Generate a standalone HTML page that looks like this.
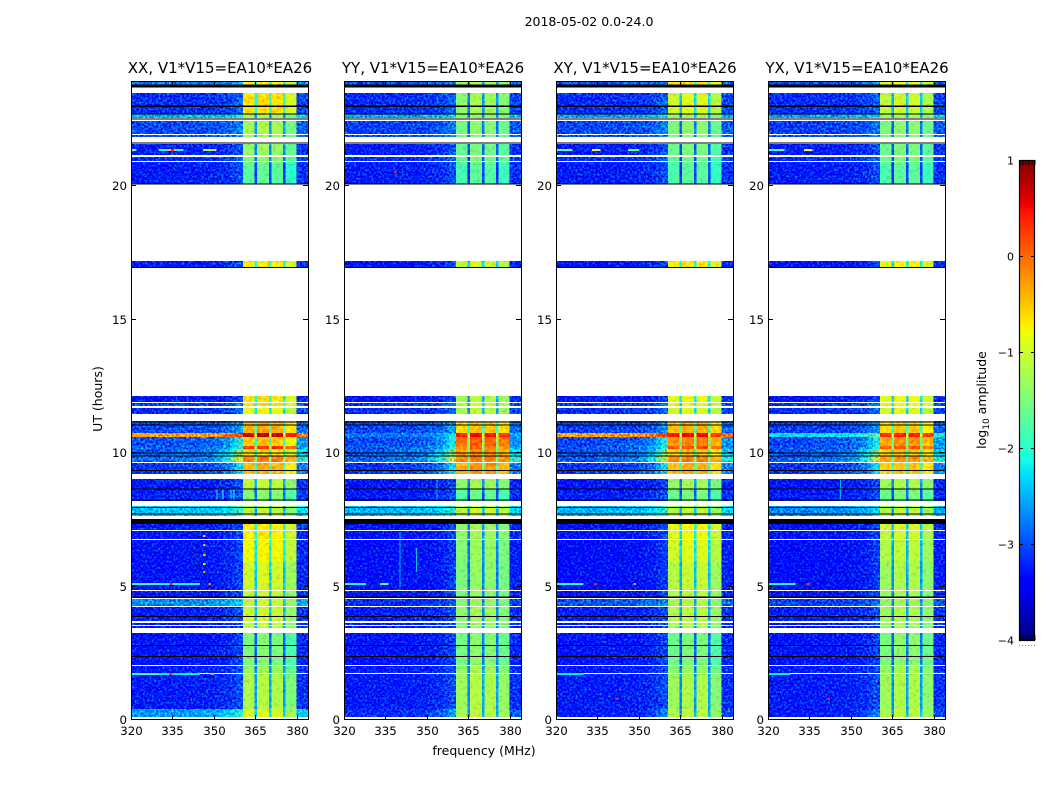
<!DOCTYPE html>
<html lang="en">
<head>
<meta charset="utf-8">
<title>2018-05-02 waterfall</title>
<style>
html,body{margin:0;padding:0;background:#fff;}
body{width:1050px;height:800px;overflow:hidden;}
svg{display:block;font-family:"DejaVu Sans","Liberation Sans",sans-serif;}
</style>
</head>
<body>
<svg id="chart" xmlns="http://www.w3.org/2000/svg" width="1050" height="800" viewBox="0 0 1050 800">
  <defs>
    <filter id="speckle" x="0" y="0" width="100%" height="100%" color-interpolation-filters="sRGB">
      <feTurbulence type="fractalNoise" baseFrequency="0.46" numOctaves="2" seed="7" result="n"/>
      <feColorMatrix in="n" type="matrix" values="0 0 0 0 0.48  2.2 0 0 0 -0.72  1 0 0 0 0  0 0 0 0 1" result="m"/>
      <feComposite in="SourceGraphic" in2="m" operator="arithmetic" k1="0" k2="1" k3="0.75" k4="-0.36" result="c"/>
      <feComposite in="c" in2="SourceAlpha" operator="in"/>
    </filter>
    <filter id="speckle-soft" x="0" y="0" width="100%" height="100%" color-interpolation-filters="sRGB">
      <feTurbulence type="fractalNoise" baseFrequency="0.3" numOctaves="2" seed="11" result="n"/>
      <feColorMatrix in="n" type="matrix" values="0 0 0 0 0.48  0.8 0 0 0 0.1  0 0 0 0 0.48  0 0 0 0 1" result="m"/>
      <feComposite in="SourceGraphic" in2="m" operator="arithmetic" k1="0" k2="1" k3="0.75" k4="-0.36" result="c"/>
      <feComposite in="c" in2="SourceAlpha" operator="in"/>
    </filter>
  </defs>
  <text x="589" y="26" text-anchor="middle" font-size="12.5">2018-05-02 0.0-24.0</text>
  <text x="484" y="755" text-anchor="middle" font-size="12.5">frequency (MHz)</text>
  <text transform="translate(102,399) rotate(-90)" text-anchor="middle" font-size="12.5">UT (hours)</text>
  <text transform="translate(986,400) rotate(-90)" text-anchor="middle" font-size="12.5">log<tspan font-size="9" dy="3">10</tspan><tspan dy="-3"> amplitude</tspan></text>
</svg>
<script>
// ---- categories and tick labels ----
const panelTitles = ["XX, V1*V15=EA10*EA26", "YY, V1*V15=EA10*EA26", "XY, V1*V15=EA10*EA26", "YX, V1*V15=EA10*EA26"];
const xTicks = [320, 335, 350, 365, 380];
const yTicks = [0, 5, 10, 15, 20];
const colorTicks = [1, 0, -1, -2, -3, -4];

// ---- time segments with valid data (UT hours); anything else is flagged white ----
const segEnd   = [23.90,23.45,22.66,22.40,21.87,21.54,21.07,20.88,20.82,17.15,12.11,11.85,11.65,11.18,10.70,10.55,10.22,10.11,9.85,9.59,8.99,8.61,7.98,7.30,7.06,6.69,5.90,4.79,4.48,4.19,3.61,3.48,3.21,2.00,1.70,0.39];
const segStart = [23.76,22.66,22.51,21.93,21.80,21.11,20.92,20.84,20.04,16.93,11.89,11.74,11.44,10.70,10.55,10.22,10.11, 9.85,9.64,9.19,8.61,8.18,7.60,7.09,6.73,5.90,4.83,4.53,4.24,3.67,3.52,3.41,2.04,1.73,0.39,0.09];

// ---- log10 amplitude of the low-frequency region, one value per segment ----
const lowXX = [-2.7,-3.1,-2.4,-2.95,-2.9,-3.2,-3.1,-3.1,-3.2,-3.2,-3.25,-3.0,-3.1,-2.95,-0.4,-2.9,-2.85,-2.85,-2.8,-3.05,-3.2,-3.15,-2.35,-3.2,-3.25,-3.25,-3.25,-3.2,-2.6,-3.2,-3.2,-3.2,-3.25,-3.2,-3.2,-2.55];
const lowYY = [-2.9,-3.1,-2.5,-3.0,-2.9,-3.2,-3.1,-3.1,-3.2,-3.25,-3.25,-3.05,-3.1,-2.95,-2.7,-2.95,-2.85,-2.85,-2.8,-3.05,-3.25,-3.2,-2.4,-3.25,-3.25,-3.3,-3.3,-3.25,-3.1,-3.2,-3.2,-3.2,-3.25,-3.2,-3.2,-3.1];
const lowXY = [-2.9,-3.1,-2.5,-2.95,-2.9,-3.2,-3.1,-3.1,-3.2,-3.25,-3.25,-3.05,-3.1,-3.0,-0.4,-2.95,-2.9,-2.9,-2.85,-3.05,-3.25,-3.2,-2.4,-3.25,-3.25,-3.3,-3.3,-3.25,-2.9,-3.2,-3.2,-3.2,-3.25,-3.2,-3.2,-3.2];
const lowYX = [-2.9,-3.1,-2.5,-3.0,-2.9,-3.2,-3.1,-3.1,-3.2,-3.25,-3.25,-3.05,-3.1,-3.0,-2.2,-2.95,-2.9,-2.9,-2.85,-3.05,-3.25,-3.2,-2.6,-3.25,-3.25,-3.3,-3.3,-3.25,-3.0,-3.2,-3.2,-3.2,-3.25,-3.2,-3.2,-3.2];

// ---- log10 amplitude of the 360-380 MHz band, one value per segment ----
const bandXX = [-0.8,-0.68,-1.3,-1.3,-1.3,-1.4,-1.5,-1.5,-1.75,-0.75,-0.7,-0.7,-0.9,-0.4,0.65,-0.55,0.25,-0.7,-0.15,-0.45,-1.15,-1.5,-1.2,-0.75,-0.75,-0.85,-1.05,-1.1,-1.1,-1.1,-1.15,-1.2,-1.55,-1.4,-1.25,-1.0];
const bandYY = [-1.3,-1.35,-1.4,-1.5,-1.5,-1.6,-1.6,-1.6,-1.8,-1.05,-1.2,-1.1,-1.2,-0.55,0.45,0.0,-0.1,-0.25,-0.1,-0.3,-1.35,-1.7,-1.1,-1.35,-1.35,-1.4,-1.45,-1.45,-1.4,-1.35,-1.4,-1.4,-1.5,-1.35,-1.25,-1.2];
const bandXY = [-0.7,-1.0,-1.3,-1.5,-1.5,-1.6,-1.7,-1.7,-1.8,-0.75,-0.9,-0.85,-1.0,-0.45,0.45,-0.2,0.1,-0.55,-0.2,-0.45,-1.35,-1.6,-1.2,-0.85,-0.9,-1.0,-1.15,-1.2,-1.25,-1.2,-1.25,-1.3,-1.6,-1.45,-1.3,-1.2];
const bandYX = [-0.9,-1.1,-1.3,-1.5,-1.5,-1.6,-1.6,-1.6,-1.8,-0.85,-0.9,-0.85,-1.0,-0.6,0.35,-0.3,0.0,-0.55,-0.3,-0.55,-1.3,-1.6,-1.2,-1.05,-1.1,-1.2,-1.3,-1.35,-1.35,-1.3,-1.35,-1.35,-1.5,-1.35,-1.3,-1.2];

// ---- how strongly each segment brightens towards the band edge ----
const segEdgeLift = [1,1,1,1,1,1,1,1,1,1,1,1,1,1.5,2,3,3,5,6,3,1,1,1.5,1,1,1,1,1,1,1,1,1,1,1,1,2];

// ---- frequency channels (MHz), with a role and a level offset for each ----
const channelEdges  = [320,335,345,350,353,356,358,360.5,364.6,365.6,369.9,370.8,374.9,375.9,379.9,384];
const channelRole   = ["low","low","low","low","low","low","low","band","gap","band","gap","band","gap","band","low"];
const channelLift   = [0,0.01,0.02,0.04,0.07,0.12,0.18,0,0,0,0,0,0,0,0.08];
const channelBand   = [0,0,0,0,0,0,0,0,0,1,1,2,2,3,0];
const subbandXX = [0.05,0.1,0.05,-0.25];
const subbandYY = [-0.05,0.1,0.05,-0.1];
const subbandXY = [0.0,0.1,0.1,-0.15];
const subbandYX = [0.0,0.1,0.1,-0.1];
const gapDrop = -1.4;

// ---- fully black time flags (UT hours) ----
const flagStart = [23.66,22.93,22.64,22.45,21.55,20.02,16.89,11.10,10.99,9.94,9.83,9.29,8.59,8.18,7.90,7.66,7.30,4.54,3.82,2.73,2.32];
const flagEnd   = [23.76,22.98,22.68,22.50,21.59,20.06,16.94,11.14,11.03,9.98,9.87,9.33,8.63,8.22,7.94,7.70,7.50,4.58,3.86,2.77,2.36];

// ---- narrow RFI spikes: panel, hour, start and end frequency, level ----
const spikePanel = [0,0,0,0,0,0,0,0,0,0,0,0,0,0,0,0,0,0,0,0,0,2,2,2,2,2,2,2,3,3,3,3,3,1,1,1,2,3];
const spikeHour  = [21.31,21.31,21.31,21.31,21.31,21.31,5.04,5.04,5.04,5.04,1.67,1.67,1.67,1.67,6.85,6.5,6.15,5.8,5.5,1.67,0.75,21.31,21.31,21.31,5.04,5.04,5.04,1.67,21.31,21.31,5.04,5.04,1.67,20.5,5.04,5.04,0.75,0.75];
const spikeFrom  = [320,330,333,334.5,336,346,320,330,334,348,320,330,334,349,346,346,346,346,346,341.5,341.5,320,333,346,320,334,348,320,320,333,320,334,320,338,320,333,341.5,341.5];
const spikeTo    = [322,333,336,335.5,339,351,330,345,335,349,330,345,335,350,347,347,347,347,347,342,342,326,336,350,330,335,349,330,326,336,330,335,328,339,328,336,342.5,342.5];
const spikeLevel = [-1.6,-2.0,-0.5,0.4,-2.0,-1.2,-1.9,-2.1,0.4,-0.2,-1.9,-2.2,0.4,-0.4,-0.6,-0.4,-0.5,-0.6,-0.2,-2.0,0.3,-1.6,-0.8,-1.6,-2.0,0.4,-0.3,-2.2,-1.8,-0.8,-2.1,0.3,-2.2,0.4,-2.1,-1.8,0.4,0.4];

// ---- thin vertical RFI lines: panel, frequency, start and end hour, level ----
const lineFreq  = [340,351,353,356,357,346,353.5,346];
const linePanel = [1,0,0,0,0,1,1,3];
const lineFrom  = [4.9,8.18,8.18,8.18,8.18,5.5,8.18,8.18];
const lineTo    = [7.0,8.60,8.60,8.60,8.60,6.4,8.95,8.95];
const lineLevel = [-2.5,-2.0,-2.0,-2.0,-2.0,-2.4,-2.4,-2.5];

const lowLevels = [lowXX, lowYY, lowXY, lowYX];
const bandLevels = [bandXX, bandYY, bandXY, bandYX];
const subbands = [subbandXX, subbandYY, subbandXY, subbandYX];

// ---- scales ----
const panelLeft = [131, 344, 556, 768];
const plotWidth = 177, plotTop = 81, plotBottom = 719;
const xMin = 320, xMax = 384, yMin = 0, yMax = 23.9;
const cbLeft = 1019, cbRight = 1035, cbTop = 160, cbBottom = 640;
const cMin = -4, cMax = 1;

function xScale(p, f) { return panelLeft[p] + (f - xMin) / (xMax - xMin) * plotWidth; }
function yScale(h) { return plotBottom - (h - yMin) / (yMax - yMin) * (plotBottom - plotTop); }
function cbScale(v) { return cbBottom - (v - cMin) / (cMax - cMin) * (cbBottom - cbTop); }

function lerp(points, t) {
  for (let i = 1; i < points.length; i++) {
    if (t <= points[i][0]) {
      const a = points[i - 1], b = points[i];
      return a[1] + (b[1] - a[1]) * (t - a[0]) / (b[0] - a[0]);
    }
  }
  return points[points.length - 1][1];
}
const jetR = [[0,0],[0.35,0],[0.66,1],[0.89,1],[1,0.5]];
const jetG = [[0,0],[0.125,0],[0.375,1],[0.64,1],[0.91,0],[1,0]];
const jetB = [[0,0.5],[0.11,1],[0.34,1],[0.65,0],[1,0]];
function jet(v) {
  const t = Math.max(0, Math.min(1, (v - cMin) / (cMax - cMin)));
  return "rgb(" + Math.round(255 * lerp(jetR, t)) + "," + Math.round(255 * lerp(jetG, t)) + "," + Math.round(255 * lerp(jetB, t)) + ")";
}

const NS = "http://www.w3.org/2000/svg";
const root = document.getElementById("chart");
function make(tag, parent) {
  const el = document.createElementNS(NS, tag);
  parent.appendChild(el);
  return el;
}
function box(el, x, y, w, h, fill) {
  el.setAttribute("x", x);
  el.setAttribute("y", y);
  el.setAttribute("width", w);
  el.setAttribute("height", h);
  el.setAttribute("fill", fill);
  el.setAttribute("shape-rendering", "crispEdges");
}
function seg(el, x1, y1, x2, y2) {
  el.setAttribute("x1", x1);
  el.setAttribute("y1", y1);
  el.setAttribute("x2", x2);
  el.setAttribute("y2", y2);
  el.setAttribute("stroke", "#000");
  el.setAttribute("stroke-width", "1");
  el.setAttribute("shape-rendering", "crispEdges");
}
function label(el, x, y, anchor, size, str) {
  el.setAttribute("x", x);
  el.setAttribute("y", y);
  el.setAttribute("text-anchor", anchor);
  el.setAttribute("font-size", size);
  el.textContent = str;
}
function cellLevel(p, s, c) {
  const role = channelRole[c];
  if (role === "low") return lowLevels[p][s] + channelLift[c] * segEdgeLift[s] * 1.6;
  const v = bandLevels[p][s] + subbands[p][channelBand[c]];
  return role === "gap" ? v + gapDrop : v;
}

panelTitles.forEach(function (title, p) {
  const x0 = panelLeft[p];
  const x1 = x0 + plotWidth;
  const panel = make("g", root);
  
  

  const lowCells = make("g", panel);
  lowCells.setAttribute("filter", "url(#speckle)");
  
  
  const bandCells = make("g", panel);
  bandCells.setAttribute("filter", "url(#speckle-soft)");
  
  

  segStart.forEach(function (startHour, s) {
    const top = Math.round(yScale(segEnd[s]));
    const bottom = Math.round(yScale(startHour));
    for (let c = 0; c < channelRole.length; c++) {
      const left = xScale(p, channelEdges[c]);
      const right = xScale(p, channelEdges[c + 1]);
      const cell = make("rect", channelRole[c] === "low" ? lowCells : bandCells);
      
      
      box(cell, left, top, right - left, Math.max(1, bottom - top), jet(cellLevel(p, s, c)));
    }
  });

  lineFreq.forEach(function (freq, i) {
    if (linePanel[i] !== p) return;
    const top = yScale(lineTo[i]);
    const rfi = make("rect", panel);
    
    
    box(rfi, xScale(p, freq), top, 1, yScale(lineFrom[i]) - top, jet(lineLevel[i]));
  });

  spikePanel.forEach(function (owner, i) {
    if (owner !== p) return;
    const y = yScale(spikeHour[i]);
    const spike = make("rect", panel);
    
    
    box(spike, xScale(p, spikeFrom[i]), Math.round(y) - 1, xScale(p, spikeTo[i]) - xScale(p, spikeFrom[i]), 2, jet(spikeLevel[i]));
  });

  flagStart.forEach(function (startHour, i) {
    const top = yScale(flagEnd[i]);
    const flag = make("rect", panel);
    
    
    box(flag, x0, top, plotWidth, yScale(startHour) - top, "#000");
  });

  const frame = make("rect", panel);
  
  
  frame.setAttribute("x", x0 + 0.5);
  frame.setAttribute("y", plotTop + 0.5);
  frame.setAttribute("width", plotWidth);
  frame.setAttribute("height", plotBottom - plotTop);
  frame.setAttribute("fill", "none");
  frame.setAttribute("stroke", "#000");
  frame.setAttribute("stroke-width", "1");
  frame.setAttribute("shape-rendering", "crispEdges");

  const titleText = make("text", panel);
  
  
  label(titleText, x0 + plotWidth / 2 + 0.5, 73, "middle", 15, title);

  xTicks.forEach(function (tick) {
    const x = Math.round(xScale(p, tick)) + 0.5;
    const low = make("line", panel);
    
    
    seg(low, x, plotBottom, x, plotBottom - 4);
    const high = make("line", panel);
    
    
    seg(high, x, plotTop, x, plotTop + 4);
    const text = make("text", panel);
    
    
    label(text, x, 735, "middle", 11.8, String(tick));
  });

  yTicks.forEach(function (tick) {
    const y = Math.round(yScale(tick)) + 0.5;
    const left = make("line", panel);
    
    
    seg(left, x0, y, x0 + 5, y);
    const right = make("line", panel);
    
    
    seg(right, x1, y, x1 - 5, y);
    const text = make("text", panel);
    
    
    label(text, x0 - 4, y + 4.5, "end", 11.8, String(tick));
  });
});

// ---- colorbar ----
const bar = make("g", root);


for (let py = cbTop; py < cbBottom; py++) {
  const strip = make("rect", bar);
  
  
  const value = cMax - (py - cbTop + 0.5) / (cbBottom - cbTop) * (cMax - cMin);
  box(strip, cbLeft, py, cbRight - cbLeft, 1, jet(value));
}
const barFrame = make("rect", bar);


barFrame.setAttribute("x", cbLeft + 0.5);
barFrame.setAttribute("y", cbTop + 0.5);
barFrame.setAttribute("width", cbRight - cbLeft - 1);
barFrame.setAttribute("height", cbBottom - cbTop);
barFrame.setAttribute("fill", "none");
barFrame.setAttribute("stroke", "#000");
barFrame.setAttribute("stroke-width", "1.2");

colorTicks.forEach(function (tick) {
  const y = Math.round(cbScale(tick)) + 0.5;
  const left = make("line", bar);
  
  
  seg(left, cbLeft, y, cbLeft + 4, y);
  const right = make("line", bar);
  
  
  seg(right, cbRight, y, cbRight - 4, y);
  const text = make("text", bar);
  
  
  label(text, 1014, y + 3.8, "end", 11, (tick < 0 ? "\u2212" : "") + Math.abs(tick));
});

for (let k = 0; k < 6; k++) {
  const px = cbLeft + 1 + k * 3;
  const topMinor = make("line", bar);
  
  
  seg(topMinor, px, cbTop, px, cbTop + 5);
  const bottomMinor = make("line", bar);
  
  
  seg(bottomMinor, px, cbBottom, px, cbBottom - 5);
  const dot = make("rect", bar);
  
  
  box(dot, px - 1, 645, 1, 1, "#888");
}
</script>
</body>
</html>
